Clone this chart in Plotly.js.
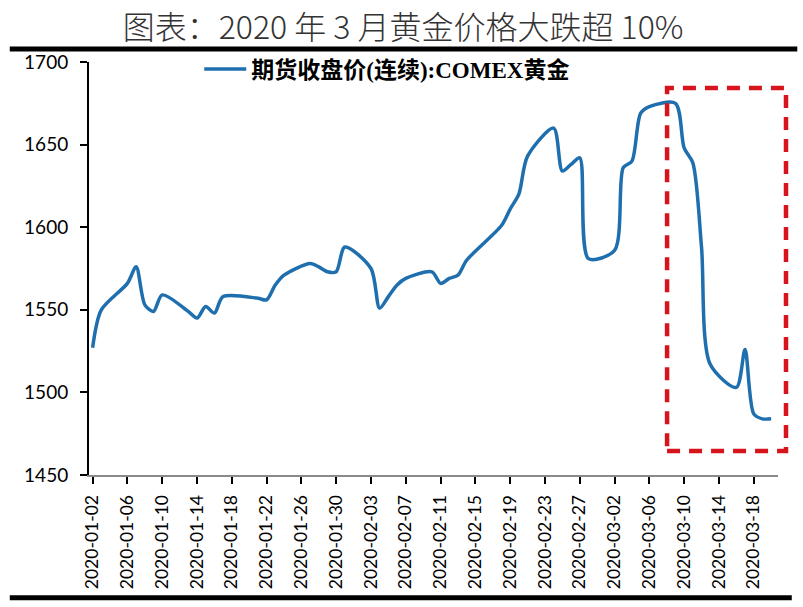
<!DOCTYPE html>
<html>
<head>
<meta charset="utf-8">
<script src="https://cdn.plot.ly/plotly-3.0.1.min.js"></script>
<style>html,body{margin:0;padding:0;background:#fff;}#chart{width:803px;height:607px;}</style>
</head>
<body>
<div id="chart"></div>
<script>
// Trading dates and COMEX gold continuous futures close (USD/oz)
const dates = [
  '2020-01-02','2020-01-03','2020-01-06','2020-01-07','2020-01-08','2020-01-09','2020-01-10',
  '2020-01-13','2020-01-14','2020-01-15','2020-01-16','2020-01-17',
  '2020-01-21','2020-01-22','2020-01-23','2020-01-24',
  '2020-01-27','2020-01-28','2020-01-29','2020-01-30','2020-01-31',
  '2020-02-03','2020-02-04','2020-02-05','2020-02-06','2020-02-07',
  '2020-02-10','2020-02-11','2020-02-12','2020-02-13','2020-02-14',
  '2020-02-18','2020-02-19','2020-02-20','2020-02-21',
  '2020-02-24','2020-02-25','2020-02-26','2020-02-27','2020-02-28',
  '2020-03-02','2020-03-03','2020-03-04','2020-03-05','2020-03-06',
  '2020-03-09','2020-03-10','2020-03-11','2020-03-12','2020-03-13',
  '2020-03-16','2020-03-17','2020-03-18','2020-03-19','2020-03-20'
];
const closePrices = [
  1527,1550,1566,1576,1553,1549,1559,
  1549,1545,1552,1548,1558,
  1557,1556,1565,1571,
  1578,1576,1573,1573,1588,
  1575,1551,1558,1565,1569,
  1573,1566,1569,1571,1580,
  1601,1611,1620,1643,
  1660,1634,1638,1642,1581,
  1586,1636,1640,1669,1673,
  1675,1648,1639,1588,1517,
  1503,1526,1487,1484,1484
];
const tickLabels = [
  '2020-01-02','2020-01-06','2020-01-10','2020-01-14','2020-01-18','2020-01-22',
  '2020-01-26','2020-01-30','2020-02-03','2020-02-07','2020-02-11','2020-02-15',
  '2020-02-19','2020-02-23','2020-02-27','2020-03-02','2020-03-06','2020-03-10',
  '2020-03-14','2020-03-18'
];
const yTicks = [1450,1500,1550,1600,1650,1700];
const seriesName = '期货收盘价(连续):COMEX黄金';
const chartTitle = '图表：2020 年 3 月黄金价格大跌超 10%';

const trace = {
  x: dates, y: closePrices, type: 'scatter', mode: 'lines', name: seriesName,
  line: {color: '#1f6fae', width: 3.5, shape: 'spline', smoothing: 0.8}
};

const layout = {
  width: 803, height: 607,
  paper_bgcolor: '#ffffff', plot_bgcolor: '#ffffff',
  margin: {l: 89, r: 25, t: 62, b: 132},
  title: {
    text: chartTitle, x: 0.502, xanchor: 'center', xref: 'container',
    y: 0.955, yref: 'container', yanchor: 'middle',
    font: {family: '"Noto Sans CJK SC", sans-serif', size: 32, color: '#333333', weight: 300}
  },
  showlegend: true,
  legend: {
    orientation: 'h', x: 0.16, xanchor: 'left', y: 1.035, yanchor: 'top',
    itemwidth: 42,
    font: {family: '"Liberation Serif", "Noto Sans CJK SC", serif', size: 23, color: '#000', weight: 'bold'},
    bgcolor: 'rgba(0,0,0,0)'
  },
  xaxis: {
    type: 'date',
    range: ['2020-01-01 14:00', '2020-03-20 19:00'],
    tickvals: tickLabels, ticktext: tickLabels, tickangle: -90,
    tickfont: {family: 'Lato, sans-serif', size: 17.5, color: '#000'},
    ticklabelstandoff: 4,
    showgrid: false, zeroline: false,
    showline: true, linecolor: '#8a8a8a', linewidth: 2,
    ticks: 'outside', ticklen: 7, tickwidth: 2, tickcolor: '#000'
  },
  yaxis: {
    range: [1450, 1700], tickvals: yTicks,
    tickfont: {family: 'Lato, sans-serif', size: 19, color: '#000'},
    ticklabelstandoff: 8,
    showgrid: false, zeroline: false,
    showline: true, linecolor: '#000', linewidth: 2,
    ticks: 'outside', ticklen: 7, tickwidth: 2, tickcolor: '#000'
  },
  shapes: [
    {type: 'line', xref: 'paper', yref: 'paper', x0: -0.115, x1: 1.028, y0: 1.0315, y1: 1.0315,
     line: {color: '#000', width: 5}},
    {type: 'line', xref: 'paper', yref: 'paper', x0: -0.115, x1: 1.02, y0: -0.297, y1: -0.297,
     line: {color: '#000', width: 5}},
    {type: 'rect', xref: 'paper', yref: 'paper', x0: 0.839, x1: 1.0116, y0: 0.058, y1: 0.937,
     line: {color: '#d7141c', width: 4.5, dash: '13px,9px'}, fillcolor: 'rgba(0,0,0,0)'}
  ]
};

Plotly.newPlot('chart', [trace], layout, {displayModeBar: false, staticPlot: true});
</script>
</body>
</html>
